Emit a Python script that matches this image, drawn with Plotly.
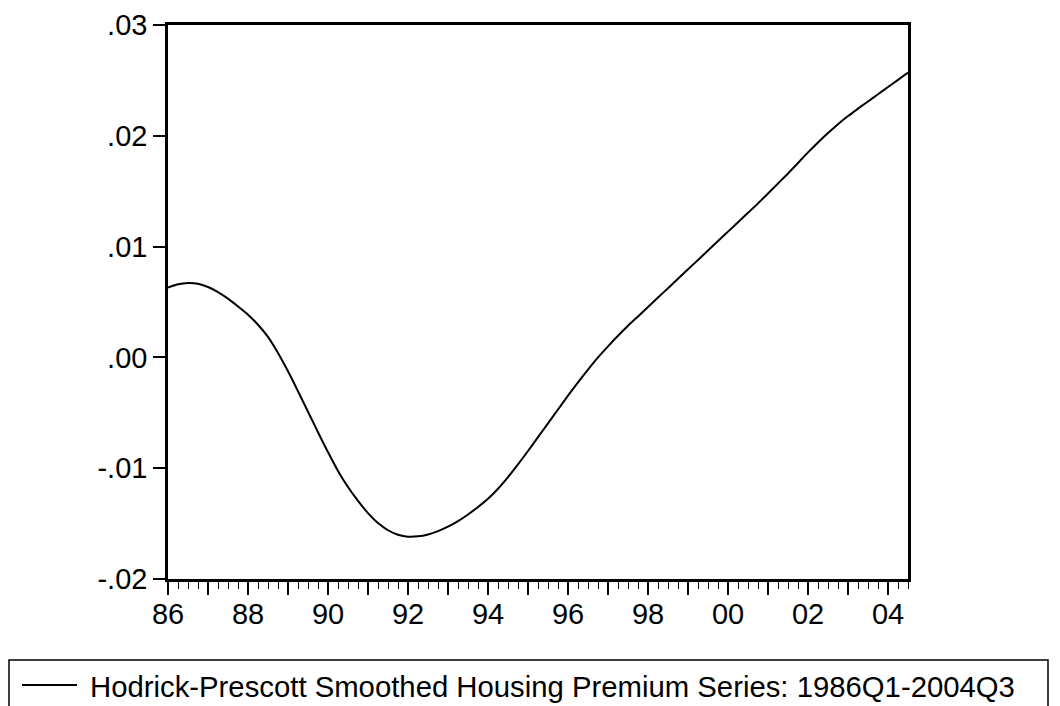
import plotly.graph_objects as go

# Quarterly data 1986Q1 .. 2004Q3 (75 observations)
start_year = 1986
hp_trend = [
    0.00630, 0.00660, 0.00672, 0.00665, 0.00635, 0.00590, 0.00530, 0.00460,
    0.00385, 0.00295, 0.00185, 0.00040, -0.00125, -0.00305, -0.00490, -0.00675,
    -0.00855, -0.01025, -0.01170, -0.01295, -0.01405, -0.01495, -0.01560, -0.01600,
    -0.01618, -0.01615, -0.01598, -0.01568, -0.01528, -0.01478, -0.01418, -0.01350,
    -0.01276, -0.01185, -0.01080, -0.00965, -0.00845, -0.00720, -0.00595, -0.00470,
    -0.00345, -0.00225, -0.00110, 0.00000, 0.00100, 0.00195, 0.00285, 0.00370,
    0.00455, 0.00540, 0.00625, 0.00710, 0.00795, 0.00880, 0.00965, 0.01050,
    0.01135, 0.01220, 0.01305, 0.01390, 0.01480, 0.01570, 0.01660, 0.01755,
    0.01850, 0.01940, 0.02025, 0.02105, 0.02178, 0.02245, 0.02310, 0.02375,
    0.02440, 0.02505, 0.02570,
]
x_dates = [start_year + i * 0.25 for i in range(len(hp_trend))]

x_tickvals = list(range(1986, 2005))
x_ticklabels = [("%02d" % (y % 100)) if y % 2 == 0 else "" for y in x_tickvals]
y_tickvals = [-0.02, -0.01, 0.0, 0.01, 0.02, 0.03]
y_ticklabels = ["-.02", "-.01", ".00", ".01", ".02", ".03"]
legend_label = "Hodrick-Prescott Smoothed Housing Premium Series: 1986Q1-2004Q3"

FONT = "Liberation Sans, Arial, sans-serif"
OFF = 8  # page body margin
W, H = 1060 - OFF, 706 - OFF
# target plot box in page pixels: x 168..908, y 25..579
L, R, T, B = 168 - OFF, 1060 - 908, 25 - OFF, 706 - 579
pw, ph = W - L - R, H - T - B


def px(x):
    return (x - OFF - L) / pw


def py(y):
    return (H - B - (y - OFF)) / ph


fig = go.Figure()
fig.add_trace(go.Scatter(
    x=x_dates, y=hp_trend, mode="lines",
    line=dict(color="black", width=2, shape="spline", smoothing=0.8),
    showlegend=False, hoverinfo="skip",
))

fig.update_layout(
    width=W, height=H,
    margin=dict(l=L, r=R, t=T, b=B, pad=0, autoexpand=False),
    paper_bgcolor="white", plot_bgcolor="white",
    font=dict(family=FONT, size=29, color="black"),
    xaxis=dict(
        range=[x_dates[0], x_dates[-1]],
        tickmode="array", tickvals=x_tickvals, ticktext=x_ticklabels,
        ticks="outside", ticklen=13, tickwidth=1.8, tickcolor="black",
        ticklabelstandoff=-6,
        minor=dict(tickmode="linear", tick0=1986, dtick=0.25, ticks="outside",
                   ticklen=7, tickwidth=1.4, tickcolor="black", showgrid=False),
        showgrid=False, zeroline=False,
        showline=True, linecolor="black", linewidth=2.5, mirror=True,
        tickfont=dict(family=FONT, size=29, color="black"),
    ),
    yaxis=dict(
        range=[-0.02, 0.03],
        tickmode="array", tickvals=y_tickvals, ticktext=y_ticklabels,
        ticks="outside", ticklen=12, tickwidth=1.8, tickcolor="black",
        showgrid=False, zeroline=False,
        showline=True, linecolor="black", linewidth=2.5, mirror=True,
        tickfont=dict(family=FONT, size=29, color="black"),
    ),
    shapes=[
        dict(type="rect", xref="paper", yref="paper",
             x0=px(9), x1=px(1048), y0=py(730), y1=py(660),
             line=dict(color="black", width=1.5), fillcolor="rgba(0,0,0,0)"),
        dict(type="line", xref="paper", yref="paper",
             x0=px(22), x1=px(77), y0=py(685), y1=py(685),
             line=dict(color="black", width=1.8)),
    ],
    annotations=[
        dict(xref="paper", yref="paper", x=px(88), y=py(686),
             xanchor="left", yanchor="middle", showarrow=False,
             text=legend_label, font=dict(family=FONT, size=29.3, color="black")),
    ],
)

fig.write_html("out.html")
